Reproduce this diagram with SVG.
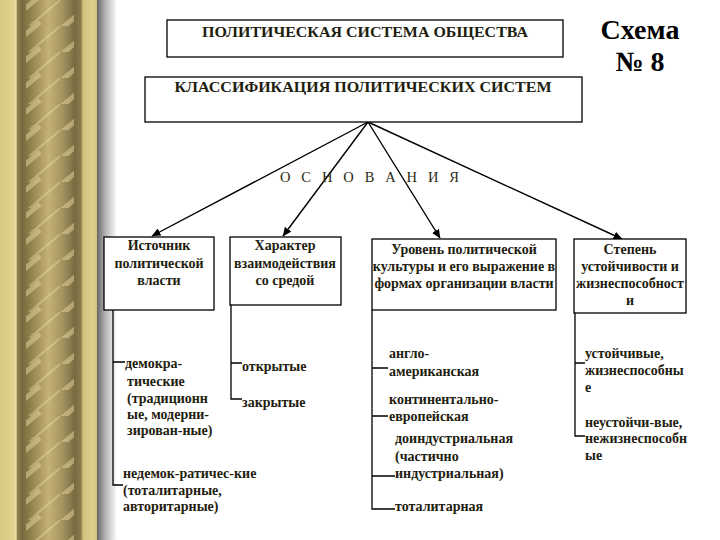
<svg xmlns="http://www.w3.org/2000/svg" width="720" height="540" viewBox="0 0 720 540">
<style>
.box{fill:#ffffff;stroke:#000000;stroke-width:1.3}
.t{font-family:"Liberation Serif","Times New Roman",serif;font-weight:bold;font-size:14px;fill:#1e200e}
.c{text-anchor:middle}
.ttl{font-family:"Liberation Serif","Times New Roman",serif;font-weight:bold;font-size:15.5px;fill:#1e200e;text-anchor:middle}
.big{font-family:"Liberation Serif","Times New Roman",serif;font-weight:bold;font-size:28px;fill:#000000;text-anchor:middle}
.osn{font-family:"Liberation Serif","Times New Roman",serif;font-size:14.5px;fill:#2a2a12}
.ln{fill:none;stroke:#000000;stroke-width:1.3}
.ar{fill:none;stroke:#000000;stroke-width:1.4}
</style>
<defs>
<linearGradient id="col" x1="0" y1="0" x2="1" y2="0">
<stop offset="0" stop-color="#d6c980"/>
<stop offset="0.15" stop-color="#e0d48f"/>
<stop offset="0.165" stop-color="#f0e6b0"/>
<stop offset="0.18" stop-color="#8f824e"/>
<stop offset="0.23" stop-color="#776a3e"/>
<stop offset="0.36" stop-color="#9d8c56"/>
<stop offset="0.5" stop-color="#c4b176"/>
<stop offset="0.64" stop-color="#a69562"/>
<stop offset="0.77" stop-color="#786b41"/>
<stop offset="0.83" stop-color="#877949"/>
<stop offset="0.86" stop-color="#d2c47e"/>
<stop offset="0.96" stop-color="#ddd18c"/>
<stop offset="1" stop-color="#cfc17c"/>
</linearGradient>
<linearGradient id="shd" x1="0" y1="0" x2="1" y2="0">
<stop offset="0" stop-color="#666666"/>
<stop offset="0.4" stop-color="#b0b0b0"/>
<stop offset="1" stop-color="#ffffff"/>
</linearGradient>
<pattern id="streaks" width="60" height="26" patternUnits="userSpaceOnUse">
<path d="M-5,34 L40,-4" stroke="#efe0a6" stroke-width="5" stroke-opacity="0.45" fill="none"/>
<path d="M-5,60 L40,22" stroke="#efe0a6" stroke-width="5" stroke-opacity="0.45" fill="none"/>
<path d="M20,34 L65,-4" stroke="#f5e9b8" stroke-width="2" stroke-opacity="0.35" fill="none"/>
</pattern>
<marker id="ah" markerWidth="9" markerHeight="8" refX="8.5" refY="4" orient="auto" markerUnits="userSpaceOnUse">
<path d="M0,0 L9,4 L0,8 Z" fill="#000000"/>
</marker>
</defs>

<rect x="0" y="0" width="720" height="540" fill="#ffffff"/>
<g id="frame">
<rect x="0" y="0" width="97" height="540" fill="url(#col)"/>
<rect x="26" y="0" width="48" height="540" fill="url(#streaks)"/>
<rect x="97" y="0" width="20" height="540" fill="url(#shd)"/>
</g>

<g id="connectors">
<line class="ar" x1="368" y1="122" x2="152" y2="236" marker-end="url(#ah)"/>
<line class="ar" x1="368" y1="122" x2="283" y2="236" marker-end="url(#ah)"/>
<line class="ar" x1="368" y1="122" x2="440" y2="238" marker-end="url(#ah)"/>
<line class="ar" x1="368" y1="122" x2="622" y2="239" marker-end="url(#ah)"/>
<path class="ln" d="M113,310 V485 H123 M113,362 H125"/>
<path class="ln" d="M231,305 V399 H242 M231,363 H242"/>
<path class="ln" d="M372,310 V509 H395 M372,368 H388 M372,416 H388 M372,476 H395"/>
<path class="ln" d="M575,313 V436 H585 M575,363 H585"/>
</g>

<g id="n_title">
<rect class="box" x="167" y="20" width="396" height="37"/>
<text class="ttl" x="365" y="37" textLength="326" lengthAdjust="spacingAndGlyphs">ПОЛИТИЧЕСКАЯ СИСТЕМА ОБЩЕСТВА</text>
</g>
<g id="n_schema">
<text class="big" x="640" y="39">Схема</text>
<text class="big" x="640" y="71">№ 8</text>
</g>
<g id="n_class">
<rect class="box" x="145" y="77" width="437" height="45"/>
<text class="ttl" x="363" y="92" textLength="377" lengthAdjust="spacingAndGlyphs">КЛАССИФИКАЦИЯ ПОЛИТИЧЕСКИХ СИСТЕМ</text>
</g>
<g id="n_osnov">
<text class="osn" x="280" y="182" textLength="179" lengthAdjust="spacing">О С Н О В А Н И Я</text>
</g>

<g id="n_source">
<rect class="box" x="104" y="237" width="110" height="73"/>
<text class="t c" x="159" y="250">Источник</text>
<text class="t c" x="159" y="268">политической</text>
<text class="t c" x="159" y="285">власти</text>
</g>
<g id="n_character">
<rect class="box" x="230" y="237" width="111" height="68"/>
<text class="t c" x="285" y="250">Характер</text>
<text class="t c" x="285" y="268">взаимодействия</text>
<text class="t c" x="285" y="285">со средой</text>
</g>
<g id="n_level">
<rect class="box" x="372" y="239" width="184" height="71"/>
<text class="t c" x="464" y="254">Уровень политической</text>
<text class="t c" x="464" y="271">культуры и его выражение в</text>
<text class="t c" x="464" y="288">формах организации власти</text>
</g>
<g id="n_stability">
<rect class="box" x="574" y="239" width="112" height="74"/>
<text class="t c" x="630" y="254">Степень</text>
<text class="t c" x="630" y="271">устойчивости и</text>
<text class="t c" x="630" y="288">жизнеспособност</text>
<text class="t c" x="630" y="305">и</text>
</g>

<g id="n_democratic">
<text class="t" x="125" y="368">демокра-</text>
<text class="t" x="127" y="386">тические</text>
<text class="t" x="127" y="403">(традиционн</text>
<text class="t" x="127" y="419">ые, модерни-</text>
<text class="t" x="127" y="435">зирован-ные)</text>
</g>
<g id="n_nondemocratic">
<text class="t" x="123" y="478">недемок-ратичес-кие</text>
<text class="t" x="123" y="495">(тоталитарные,</text>
<text class="t" x="123" y="511">авторитарные)</text>
</g>
<g id="n_open">
<text class="t" x="242" y="371">открытые</text>
</g>
<g id="n_closed">
<text class="t" x="242" y="407">закрытые</text>
</g>
<g id="n_anglo">
<text class="t" x="389" y="358">англо-</text>
<text class="t" x="389" y="376">американская</text>
</g>
<g id="n_continental">
<text class="t" x="389" y="404">континентально-</text>
<text class="t" x="389" y="421">европейская</text>
</g>
<g id="n_preindustrial">
<text class="t" x="395" y="443">доиндустриальная</text>
<text class="t" x="395" y="461">(частично</text>
<text class="t" x="395" y="478">индустриальная)</text>
</g>
<g id="n_totalitarian">
<text class="t" x="395" y="511">тоталитарная</text>
</g>
<g id="n_stable">
<text class="t" x="585" y="358">устойчивые,</text>
<text class="t" x="585" y="375">жизнеспособны</text>
<text class="t" x="585" y="392">е</text>
</g>
<g id="n_unstable">
<text class="t" x="585" y="427">неустойчи-вые,</text>
<text class="t" x="585" y="443">нежизнеспособн</text>
<text class="t" x="585" y="460">ые</text>
</g>
</svg>
